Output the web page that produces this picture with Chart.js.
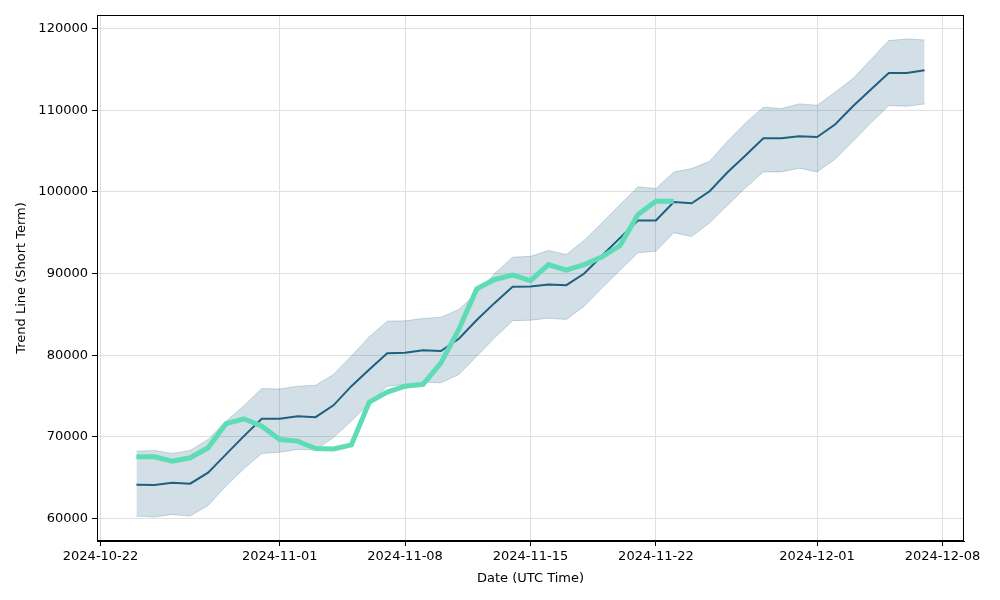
<!DOCTYPE html>
<html>
<head>
<meta charset="utf-8">
<script src="https://cdn.jsdelivr.net/npm/chart.js@4.4.1/dist/chart.umd.min.js"></script>
<style>
  body { margin: 0; background: #fff; }
  #chart { display: block; }
</style>
</head>
<body>
<canvas id="chart" width="1000" height="600"></canvas>
<script>
const dates = [
  '2024-10-24', '2024-10-25', '2024-10-26', '2024-10-27', '2024-10-28', '2024-10-29', '2024-10-30',
  '2024-10-31', '2024-11-01', '2024-11-02', '2024-11-03', '2024-11-04', '2024-11-05', '2024-11-06',
  '2024-11-07', '2024-11-08', '2024-11-09', '2024-11-10', '2024-11-11', '2024-11-12', '2024-11-13',
  '2024-11-14', '2024-11-15', '2024-11-16', '2024-11-17', '2024-11-18', '2024-11-19', '2024-11-20',
  '2024-11-21', '2024-11-22', '2024-11-23', '2024-11-24', '2024-11-25', '2024-11-26', '2024-11-27',
  '2024-11-28', '2024-11-29', '2024-11-30', '2024-12-01', '2024-12-02', '2024-12-03', '2024-12-04',
  '2024-12-05', '2024-12-06', '2024-12-07',
];

const trend = [
  64130, 64100, 64370, 64250, 65600, 67840, 70080, 72200, 72200, 72500,
  72400, 73850, 76200, 78250, 80240, 80280, 80600, 80500, 82000, 84300,
  86400, 88370, 88400, 88650, 88570, 90000, 92200, 94370, 96490, 96490,
  98750, 98600, 100080, 102410, 104450, 106570, 106570, 106820, 106720, 108250,
  110490, 112530, 114570, 114570, 114900,
];

const upper = [
  68240, 68320, 67960, 68320, 69670, 71900, 73800, 75900, 75850, 76200,
  76300, 77630, 79900, 82250, 84160, 84200, 84490, 84650, 85590, 87630,
  90000, 92000, 92100, 92820, 92330, 94080, 96210, 98450, 100620, 100410,
  102430, 102860, 103760, 106200, 108450, 110370, 110200, 110780, 110610, 112200,
  113880, 116200, 118530, 118740, 118610,
];

const lower = [
  60280, 60160, 60490, 60280, 61590, 63960, 66080, 67960, 68100, 68450,
  68400, 69900, 71920, 74080, 76200, 76410, 76690, 76610, 77630, 79870,
  82130, 84220, 84280, 84530, 84370, 86000, 88250, 90410, 92530, 92730,
  95000, 94530, 96210, 98370, 100490, 102450, 102450, 102900, 102450, 104000,
  106200, 108450, 110570, 110490, 110780,
];

// actual price, first 31 days only
const actual = [
  67550, 67550, 67020, 67430, 68650, 71600, 72200, 71300, 69670, 69470,
  68570, 68500, 69000, 74240, 75470, 76200, 76410, 79060, 83140, 88120,
  89270, 89820, 89120, 91100, 90400, 91100, 92040, 93430, 97230, 98850,
  98850,
];

const xTickLabels = ['2024-10-22', '2024-11-01', '2024-11-08', '2024-11-15', '2024-11-22', '2024-12-01', '2024-12-08'];
const yTickValues = [60000, 70000, 80000, 90000, 100000, 110000, 120000];

const xs = dates.map((d) => Date.parse(d));
const pts = (arr) => arr.map((v, i) => ({ x: xs[i], y: v }));

// matplotlib-style 5% margins
const xSpan = xs[xs.length - 1] - xs[0];
const yLo = Math.min(...lower, ...actual);
const yHi = Math.max(...upper, ...actual);
const ySpan = yHi - yLo;

const TREND = '#1f5f80';
const BAND = 'rgba(31,95,128,0.2)';
const GREEN = '#5edcb6';
const FONT = 'DejaVu Sans';

const frame = {
  id: 'frame',
  afterDraw(chart) {
    const { ctx, chartArea: a } = chart;
    ctx.save();
    ctx.strokeStyle = '#000';
    ctx.lineWidth = 1;
    ctx.strokeRect(a.left + 0.5, a.top + 0.5, a.right - a.left - 1, a.bottom - a.top - 1);
    ctx.restore();
  },
};

new Chart(document.getElementById('chart'), {
  type: 'line',
  data: {
    datasets: [
      { data: pts(actual), borderColor: GREEN, borderWidth: 5, pointRadius: 0, fill: false, order: 0 },
      { data: pts(trend), borderColor: TREND, borderWidth: 2, pointRadius: 0, fill: false, order: 1 },
      { data: pts(upper), borderColor: 'rgba(31,95,128,0.22)', borderWidth: 1, pointRadius: 0,
        backgroundColor: BAND, fill: '+1', order: 2 },
      { data: pts(lower), borderColor: 'rgba(31,95,128,0.22)', borderWidth: 1, pointRadius: 0, fill: false, order: 3 },
    ],
  },
  options: {
    responsive: false,
    animation: false,
    layout: { padding: { left: 10, right: 36, top: 15, bottom: 10 } },
    plugins: { legend: { display: false }, tooltip: { enabled: false } },
    scales: {
      x: {
        type: 'linear',
        min: xs[0] - 0.05 * xSpan,
        max: xs[xs.length - 1] + 0.05 * xSpan,
        afterBuildTicks: (s) => { s.ticks = xTickLabels.map((d) => ({ value: Date.parse(d) })); },
        afterFit: (s) => { s.height = 49; },
        ticks: {
          color: '#000', font: { family: FONT, size: 13 }, padding: 3, maxRotation: 0, autoSkip: false,
          callback: (v) => new Date(v).toISOString().slice(0, 10),
        },
        grid: { color: '#e0e0e0', tickColor: '#000', tickLength: 5 },
        border: { color: '#000' },
        title: { display: true, text: 'Date (UTC Time)', color: '#000', font: { family: FONT, size: 13 }, padding: { top: 4 } },
      },
      y: {
        min: yLo - 0.05 * ySpan,
        max: yHi + 0.05 * ySpan,
        afterBuildTicks: (s) => { s.ticks = yTickValues.map((v) => ({ value: v })); },
        afterFit: (s) => { s.width = 87; },
        ticks: { color: '#000', font: { family: FONT, size: 13 }, padding: 4, callback: (v) => String(v) },
        grid: { color: '#e0e0e0', tickColor: '#000', tickLength: 5 },
        border: { color: '#000' },
        title: { display: true, text: 'Trend Line (Short Term)', color: '#000', font: { family: FONT, size: 13 }, padding: { bottom: 0 } },
      },
    },
  },
  plugins: [frame],
});
</script>
</body>
</html>
